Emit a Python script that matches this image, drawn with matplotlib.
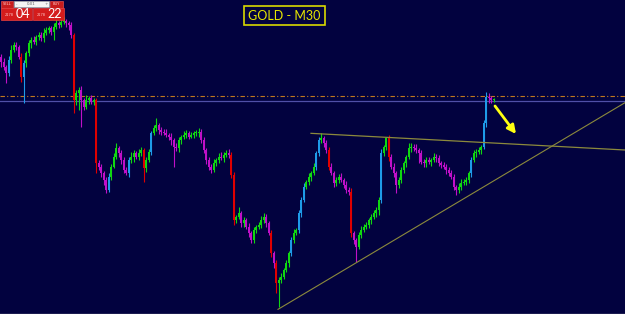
import numpy as np
import matplotlib
matplotlib.use("Agg")
import matplotlib.pyplot as plt
from matplotlib.patches import Rectangle

# ---------------- data ----------------
first_open = 2191.0
closes = [
    2189.5, 2188.0, 2186.0, 2190.0, 2193.0, 2194.5, 2194.0, 2191.0, 2185.0, 2189.0,
    2192.0, 2195.0, 2196.0, 2195.5, 2197.0, 2197.5, 2196.5, 2198.0, 2199.0, 2199.5,
    2198.5, 2200.0, 2201.0, 2200.5, 2201.5, 2201.8, 2201.0, 2200.5, 2197.5, 2178.0,
    2180.0, 2181.0, 2178.0, 2176.0, 2178.0, 2178.5, 2177.5, 2178.0, 2159.0, 2158.0,
    2156.0, 2154.0, 2151.0, 2155.0, 2158.0, 2161.0, 2163.5, 2162.0, 2160.0, 2157.0,
    2156.0, 2160.0, 2161.0, 2162.0, 2161.0, 2162.0, 2163.0, 2157.5, 2160.0, 2162.5,
    2168.0, 2169.5, 2170.5, 2169.0, 2168.5, 2168.0, 2167.6, 2167.0, 2166.0, 2164.0,
    2163.5, 2166.0, 2167.0, 2167.5, 2168.0, 2167.0, 2167.5, 2168.0, 2168.2, 2168.5,
    2166.0, 2163.0, 2160.0, 2158.0, 2157.0, 2159.0, 2160.0, 2161.0, 2160.5, 2161.5,
    2162.0, 2161.5, 2155.5, 2142.0, 2143.0, 2144.0, 2141.0, 2142.0, 2140.0, 2138.0,
    2136.0, 2139.0, 2140.0, 2140.5, 2142.0, 2143.0, 2141.0, 2138.0, 2132.0, 2129.0,
    2123.0, 2124.0, 2125.0, 2127.0, 2129.0, 2132.0, 2136.0, 2138.0, 2139.0, 2144.0,
    2148.0, 2152.0, 2153.5, 2155.0, 2156.0, 2158.0, 2162.0, 2166.0, 2166.5, 2165.0,
    2163.0, 2158.0, 2156.0, 2153.0, 2154.0, 2155.0, 2154.0, 2152.5, 2151.0, 2150.5,
    2138.0, 2136.0, 2134.0, 2137.5, 2139.0, 2140.0, 2140.5, 2142.0, 2143.0, 2144.0,
    2145.0, 2148.0, 2162.0, 2164.0, 2166.5, 2161.0, 2158.0, 2156.0, 2152.5, 2154.0,
    2157.0, 2159.0, 2161.0, 2163.5, 2164.0, 2163.5, 2163.0, 2162.0, 2159.5, 2159.0,
    2160.0, 2159.5, 2160.0, 2161.0, 2160.5, 2159.0, 2158.5, 2158.0, 2157.0, 2156.0,
    2155.0, 2152.0, 2151.0, 2152.0, 2153.0, 2153.5, 2154.0, 2156.0, 2160.0, 2162.0,
    2162.5, 2163.0, 2164.0, 2171.0, 2179.0, 2178.5, 2178.0, 2178.2,
]
upper_wicks = [
    0.8, 1.0, 0.5, 1.2, 1.5, 1.0, 0.8, 0.6, 1.0, 1.0,
    0.6, 1.0, 0.8, 1.2, 0.5, 1.0, 0.8, 1.5, 1.0, 0.6,
    0.8, 1.0, 1.5, 0.6, 1.0, 1.2, 0.5, 0.8, 1.0, 0.5,
    1.0, 0.8, 1.2, 0.6, 1.5, 0.8, 1.0, 0.5, 0.6, 1.0,
    0.8, 0.6, 1.0, 1.2, 0.8, 1.0, 1.5, 0.6, 1.0, 0.8,
    1.0, 0.8, 1.5, 1.0, 0.6, 1.2, 0.8, 0.5, 1.0, 0.8,
    0.8, 1.0, 2.0, 0.6, 1.0, 0.8, 1.2, 0.5, 1.0, 0.6,
    1.0, 0.8, 0.6, 1.2, 1.0, 0.8, 1.0, 0.6, 0.8, 1.0,
    0.8, 1.0, 0.6, 1.0, 0.8, 1.2, 0.6, 1.0, 1.5, 0.8,
    1.0, 1.2, 0.8, 1.0, 0.6, 2.0, 0.8, 1.0, 0.6, 1.0,
    0.8, 1.0, 0.6, 1.0, 1.2, 1.0, 0.8, 0.6, 1.0, 0.8,
    1.0, 0.8, 1.2, 0.6, 1.0, 0.8, 1.0, 1.2, 0.6, 1.0,
    0.8, 1.0, 0.6, 1.2, 0.8, 1.0, 0.6, 1.0, 1.5, 0.8,
    1.0, 0.8, 1.2, 0.6, 1.0, 0.8, 1.0, 0.6, 1.2, 0.8,
    1.0, 0.8, 0.6, 1.0, 1.2, 0.8, 1.0, 0.6, 0.8, 1.0,
    0.8, 1.0, 1.2, 0.6, 0.5, 1.0, 0.8, 1.0, 0.6, 1.0,
    1.0, 0.8, 0.6, 1.5, 1.0, 0.8, 1.2, 0.6, 1.0, 0.8,
    0.8, 1.0, 0.6, 1.2, 0.8, 1.0, 0.6, 1.0, 0.8, 1.0,
    1.0, 0.8, 0.6, 1.0, 1.2, 0.8, 1.0, 0.6, 0.8, 1.0,
    0.8, 1.0, 0.6, 1.0, 1.5, 1.0, 0.8, 0.5,
]
lower_wicks = [
    1.5, 1.0, 3.0, 0.8, 1.0, 0.6, 1.0, 0.8, 1.5, 8.0,
    1.0, 0.8, 1.5, 0.6, 1.0, 1.0, 0.8, 1.0, 0.5, 1.0,
    1.0, 2.5, 0.8, 1.0, 0.6, 0.8, 1.0, 1.5, 1.0, 4.0,
    1.5, 5.0, 8.0, 1.0, 0.8, 1.2, 0.6, 1.0, 3.0, 1.0,
    1.0, 1.5, 0.8, 0.6, 1.0, 0.5, 0.8, 1.0, 1.2, 1.0,
    0.5, 1.0, 0.8, 1.5, 0.6, 1.0, 0.8, 4.0, 1.0, 0.6,
    1.0, 0.6, 0.8, 1.2, 1.0, 0.5, 0.8, 1.0, 1.5, 6.0,
    0.8, 1.0, 1.2, 0.6, 1.0, 0.8, 0.5, 1.0, 0.8, 1.2,
    1.0, 0.8, 1.2, 1.0, 1.0, 0.6, 0.8, 1.0, 0.6, 1.0,
    0.6, 1.0, 0.8, 1.5, 1.0, 0.8, 1.2, 1.0, 0.8, 1.0,
    1.0, 0.8, 1.0, 0.6, 1.0, 0.8, 1.2, 0.6, 1.0, 1.5,
    3.0, 7.0, 1.0, 0.8, 0.6, 1.0, 0.8, 1.0, 0.6, 0.8,
    1.0, 0.6, 0.8, 1.0, 1.2, 0.6, 1.0, 0.8, 1.0, 1.0,
    0.8, 1.0, 0.6, 1.2, 0.8, 1.0, 0.6, 1.0, 0.8, 1.0,
    1.0, 1.2, 4.5, 0.8, 1.0, 0.6, 0.8, 1.0, 1.2, 0.8,
    1.0, 1.5, 1.0, 0.8, 1.0, 1.2, 0.8, 1.0, 2.5, 0.8,
    0.8, 1.0, 1.2, 0.6, 1.0, 0.8, 1.0, 3.0, 0.8, 1.0,
    1.0, 0.8, 1.2, 0.6, 1.0, 0.8, 1.0, 0.6, 1.2, 0.8,
    0.8, 1.0, 1.5, 0.8, 1.0, 0.6, 1.0, 0.8, 1.0, 0.6,
    1.0, 0.8, 1.2, 0.6, 1.0, 1.5, 1.0, 0.6,
]

order_line_price = 2179.2      # dash-dot orange line
bid_line_price = 2177.8        # solid slate line
resistance = [(123.9, 2168.0), (249.5, 2163.0)]
support = [(110.7, 2115.2), (249.5, 2177.2)]
arrow_start = (197.5, 2176.2)
arrow_end = (205.9, 2167.8)
title_text = "GOLD - M30"
sell_price = ("2178", "04")
buy_price = ("2178", "22")
lot_text = "0.01"

# ---------------- figure ----------------
W, H = 625, 314
BG = "#02023f"
fig = plt.figure(figsize=(W / 100, H / 100), dpi=100, facecolor=BG)
ax = fig.add_axes([0, 0, 1, 1], facecolor=BG)
ax.set_xlim(-0.5, 249.5)
ax.set_ylim(2113.8, 2208.0)
for s in ax.spines.values():
    s.set_visible(False)
ax.set_xticks([])
ax.set_yticks([])

closes_a = np.array(closes)
opens_a = np.r_[first_open, closes_a[:-1]]
tops = np.maximum(opens_a, closes_a)
bots = np.minimum(opens_a, closes_a)
highs = tops + np.array(upper_wicks)
lows = bots - np.array(lower_wicks)
x = np.arange(len(closes_a))

colors = []
for o, c in zip(opens_a, closes_a):
    body = c - o
    if body >= 0:
        colors.append("#1e9be8" if body >= 3.8 else "#10d810")
    else:
        colors.append("#e00000" if -body >= 3.8 else "#c010c8")

ax.vlines(x, lows, highs, colors=colors, linewidth=0.8, zorder=3)
heights = np.where(np.abs(closes_a - opens_a) < 0.25, 0.25, closes_a - opens_a)
ax.bar(x, heights, bottom=opens_a, width=0.8, color=colors, linewidth=0, zorder=4)

# horizontal lines
ax.axhline(order_line_price, color="#c0781e", linewidth=0.8,
           linestyle=(0, (4, 2, 1, 2)), zorder=2)
ax.axhline(bid_line_price, color="#5050a8", linewidth=0.9, zorder=2)

# trend lines
ax.plot([p[0] for p in resistance], [p[1] for p in resistance],
        color="#8c8a3c", linewidth=0.9, zorder=5)
ax.plot([p[0] for p in support], [p[1] for p in support],
        color="#8c8a3c", linewidth=0.8, zorder=5)

# arrow
ax.annotate("", xy=arrow_end, xytext=arrow_start,
            arrowprops=dict(arrowstyle="-|>,head_length=0.5,head_width=0.25",
                            color="#ffff10", lw=2.0, shrinkA=0, shrinkB=0),
            zorder=6)

# bottom grey border
ax.axhline(2113.95, color="#8a8a9a", linewidth=1.0, zorder=6)


def fx(px):
    return px / W


def fy(py):
    return 1 - py / H


def rect_px(x0, y0, x1, y1, fc, ec=None, lw=0.0):
    r = Rectangle((fx(x0), fy(y1)), fx(x1) - fx(x0), fy(y0) - fy(y1),
                  transform=fig.transFigure, facecolor=fc,
                  edgecolor=ec if ec else fc, linewidth=lw, zorder=10)
    fig.patches.append(r)


# title box
rect_px(244, 6, 325, 25, BG, "#d8d800", 1.2)
fig.text(fx(284.5), fy(15.8), title_text, color="#e6e600", fontsize=9,
         family=["Lato", "DejaVu Sans"], ha="center", va="center", zorder=11)

# one-click trading panel
rect_px(1, 1, 13, 7.5, "#c81c1c", "#e05050", 0.5)
rect_px(13.5, 1, 49, 7, "#f4f4f4", "#b0b0b0", 0.5)
rect_px(49.5, 1, 63, 7.5, "#c81c1c", "#e05050", 0.5)
rect_px(1, 8, 32, 19.5, "#d41c1c", "#e84040", 0.5)
rect_px(33, 8, 63.5, 19.5, "#d41c1c", "#e84040", 0.5)
fig.text(fx(7), fy(4.3), "SELL", color="#ffd0d0", fontsize=2.6,
         ha="center", va="center", zorder=12)
fig.text(fx(56), fy(4.3), "BUY", color="#ffd0d0", fontsize=2.6,
         ha="center", va="center", zorder=12)
fig.text(fx(17), fy(4.2), "-", color="#707070", fontsize=3,
         ha="center", va="center", zorder=12)
fig.text(fx(31), fy(4.2), lot_text, color="#606060", fontsize=2.8,
         ha="center", va="center", zorder=12)
fig.text(fx(46), fy(4.2), "+", color="#707070", fontsize=3,
         ha="center", va="center", zorder=12)
fig.text(fx(9.5), fy(15.5), sell_price[0], color="#ffc8c8", fontsize=2.6,
         ha="center", va="center", zorder=12)
fig.text(fx(22.5), fy(13.8), sell_price[1], color="white", fontsize=9,
         family=["Lato", "DejaVu Sans"], ha="center", va="center", zorder=12)
fig.text(fx(41.5), fy(15.5), buy_price[0], color="#ffc8c8", fontsize=2.6,
         ha="center", va="center", zorder=12)
fig.text(fx(54.5), fy(13.8), buy_price[1], color="white", fontsize=9,
         family=["Lato", "DejaVu Sans"], ha="center", va="center", zorder=12)

fig.savefig("out.png", dpi=100, facecolor=BG)
